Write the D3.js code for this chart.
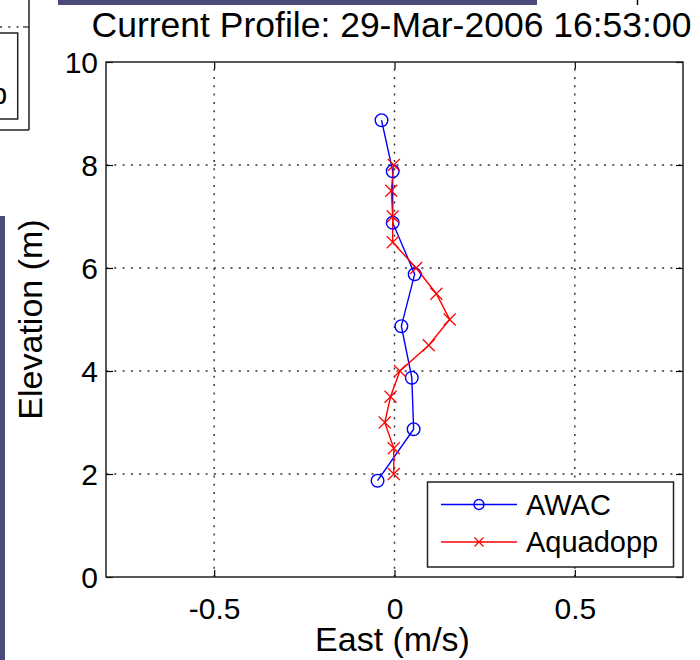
<!DOCTYPE html>
<html>
<head>
<meta charset="utf-8">
<script src="https://cdn.jsdelivr.net/npm/d3@7"></script>
<style>
  html, body { margin: 0; padding: 0; background: #fff; }
  svg { display: block; font-family: "Liberation Sans", Arial, Helvetica, sans-serif; }
</style>
</head>
<body>
<svg id="chart" width="700" height="660"></svg>
<script>
// Current profile: east velocity vs. elevation for two instruments
const titleText = "Current Profile: 29-Mar-2006 16:53:00";
const xLabel = "East (m/s)";
const yLabel = "Elevation (m)";

const xTicks = [-0.5, 0, 0.5];
const xTickLabels = ["-0.5", "0", "0.5"];
const yTicks = [0, 2, 4, 6, 8, 10];
const yTickLabels = ["0", "2", "4", "6", "8", "10"];

// AWAC cells (elevation in m, east velocity in m/s)
const awacElevation = [1.87, 2.87, 3.87, 4.87, 5.88, 6.88, 7.88, 8.87];
const awacEast      = [-0.047, 0.053, 0.048, 0.019, 0.056, -0.005, -0.005, -0.036];

// Aquadopp cells
const aquaElevation = [2.0, 2.5, 3.0, 3.5, 4.0, 4.5, 5.0, 5.5, 6.0, 6.5, 7.0, 7.5, 8.0];
const aquaEast      = [-0.002, -0.002, -0.027, -0.011, 0.015, 0.095, 0.153, 0.116, 0.06, -0.005, -0.005, -0.009, -0.002];

const seriesNames = ["AWAC", "Aquadopp"];

const svg = d3.select("#chart");
const fontTick = 30, fontLabel = 34, fontTitle = 35.5, fontLegend = 29;

const plot = { left: 106, top: 62, right: 683, bottom: 577 };
const x = d3.scaleLinear().domain([-0.8, 0.8]).range([plot.left, plot.right]);
const y = d3.scaleLinear().domain([0, 10]).range([plot.bottom, plot.top]);

// Neighbouring window pieces around the axes
const frame = svg.append("g");
frame.append("rect").attr("x", 58).attr("y", 0).attr("width", 479).attr("height", 5).attr("fill", "#4b4b7a");
frame.append("rect").attr("x", 0).attr("y", 216).attr("width", 5).attr("height", 444).attr("fill", "#4b4b7a");
frame.append("line").attr("x1", 637.5).attr("x2", 637.5).attr("y1", 0).attr("y2", 5).attr("stroke", "#000").attr("stroke-width", 1.5);
frame.append("line").attr("x1", 29).attr("x2", 29).attr("y1", 0).attr("y2", 130).attr("stroke", "#222").attr("stroke-width", 1.5);
frame.append("line").attr("x1", 0).attr("x2", 29).attr("y1", 130).attr("y2", 130).attr("stroke", "#222").attr("stroke-width", 1.5);
frame.append("line").attr("x1", 0).attr("x2", 23).attr("y1", 27).attr("y2", 27)
  .attr("stroke", "#333").attr("stroke-width", 1.5).attr("stroke-dasharray", "2,6.3");
frame.append("line").attr("x1", 23).attr("x2", 29).attr("y1", 27).attr("y2", 27).attr("stroke", "#222").attr("stroke-width", 1.2);
frame.append("polyline").attr("points", "0,33 17.7,33 17.7,119 0,119")
  .attr("fill", "none").attr("stroke", "#222").attr("stroke-width", 1.5);
// tail of a neighbouring legend entry, clipped by the window edge
frame.append("text").attr("x", -9).attr("y", 104).attr("font-size", fontLegend).attr("fill", "#000").text("p");

// Grid (dotted)
const grid = svg.append("g").attr("stroke", "#333").attr("stroke-width", 1.5).attr("stroke-dasharray", "2,6.3");
grid.selectAll("line.gx").data(xTicks).join("line")
  .attr("x1", d => x(d)).attr("x2", d => x(d)).attr("y1", plot.bottom).attr("y2", plot.top);
grid.selectAll("line.gy").data(yTicks.filter(d => d > 0 && d < 10)).join("line")
  .attr("x1", plot.left).attr("x2", plot.right).attr("y1", d => y(d)).attr("y2", d => y(d));

// Axes with inward ticks on all four sides
const tickLen = 7;
const axisStyle = g => {
  g.select(".domain").remove();
  g.selectAll(".tick line").attr("stroke", "#000").attr("stroke-width", 1.2);
};
svg.append("g").attr("transform", `translate(0,${plot.bottom})`)
  .call(d3.axisBottom(x).tickValues(xTicks).tickSize(-tickLen).tickFormat((d, i) => xTickLabels[i]))
  .call(axisStyle)
  .call(g => g.selectAll(".tick text").attr("font-size", fontTick).attr("fill", "#000")
    .attr("font-family", "Liberation Sans, Arial, sans-serif").attr("y", 0).attr("dy", 42));
svg.append("g").attr("transform", `translate(0,${plot.top})`)
  .call(d3.axisTop(x).tickValues(xTicks).tickSize(-tickLen).tickFormat(""))
  .call(axisStyle);
svg.append("g").attr("transform", `translate(${plot.left},0)`)
  .call(d3.axisLeft(y).tickValues(yTicks).tickSize(-tickLen).tickFormat((d, i) => yTickLabels[i]))
  .call(axisStyle)
  .call(g => g.selectAll(".tick text").attr("font-size", fontTick).attr("fill", "#000")
    .attr("font-family", "Liberation Sans, Arial, sans-serif").attr("x", -8).attr("dy", "0.36em"));
svg.append("g").attr("transform", `translate(${plot.right},0)`)
  .call(d3.axisRight(y).tickValues(yTicks).tickSize(-tickLen).tickFormat(""))
  .call(axisStyle);

// Axes box
svg.append("rect").attr("x", plot.left).attr("y", plot.top)
  .attr("width", plot.right - plot.left).attr("height", plot.bottom - plot.top)
  .attr("fill", "none").attr("stroke", "#222").attr("stroke-width", 1.5);

// Series
const awac = awacEast.map((v, i) => ({ e: v, z: awacElevation[i] }));
const aqua = aquaEast.map((v, i) => ({ e: v, z: aquaElevation[i] }));
const line = d3.line().x(d => x(d.e)).y(d => y(d.z));

svg.append("path").datum(awac).attr("d", line)
  .attr("fill", "none").attr("stroke", "#0000ff").attr("stroke-width", 1.4);
svg.append("path").datum(aqua).attr("d", line)
  .attr("fill", "none").attr("stroke", "#ff0000").attr("stroke-width", 1.4);

const circleR = 6.3, crossH = 6;
svg.append("g").selectAll("circle").data(awac).join("circle")
  .attr("cx", d => x(d.e)).attr("cy", d => y(d.z)).attr("r", circleR)
  .attr("fill", "none").attr("stroke", "#0000ff").attr("stroke-width", 1.4);
const crossPath = (cx, cy, h) => `M${cx - h},${cy - h}L${cx + h},${cy + h}M${cx - h},${cy + h}L${cx + h},${cy - h}`;
svg.append("g").selectAll("path").data(aqua).join("path")
  .attr("d", d => crossPath(x(d.e), y(d.z), crossH))
  .attr("fill", "none").attr("stroke", "#ff0000").attr("stroke-width", 1.2);

// Legend
const lg = svg.append("g");
lg.append("rect").attr("x", 427.5).attr("y", 482).attr("width", 246).attr("height", 85)
  .attr("fill", "#fff").attr("stroke", "#222").attr("stroke-width", 1.5);
const rows = [
  { name: seriesNames[0], color: "#0000ff", cy: 504.5, marker: "circle" },
  { name: seriesNames[1], color: "#ff0000", cy: 542, marker: "cross" }
];
rows.forEach(r => {
  lg.append("line").attr("x1", 441).attr("x2", 517).attr("y1", r.cy).attr("y2", r.cy)
    .attr("stroke", r.color).attr("stroke-width", 1.4);
  if (r.marker === "circle") {
    lg.append("circle").attr("cx", 479).attr("cy", r.cy).attr("r", 5)
      .attr("fill", "none").attr("stroke", r.color).attr("stroke-width", 1.4);
  } else {
    lg.append("path").attr("d", crossPath(479, r.cy, 4.5))
      .attr("fill", "none").attr("stroke", r.color).attr("stroke-width", 1.2);
  }
  lg.append("text").attr("x", 526).attr("y", r.cy).attr("dy", "0.36em")
    .attr("font-size", fontLegend).attr("fill", "#000").text(r.name);
});

// Title and axis labels
svg.append("text").attr("x", (plot.left + plot.right) / 2 - 3).attr("y", 37)
  .attr("text-anchor", "middle").attr("font-size", fontTitle).attr("fill", "#000").text(titleText);
svg.append("text").attr("x", (plot.left + plot.right) / 2 - 2).attr("y", 651)
  .attr("text-anchor", "middle").attr("font-size", fontLabel).attr("fill", "#000").text(xLabel);
svg.append("text").attr("transform", `translate(42,${(plot.top + plot.bottom) / 2}) rotate(-90)`)
  .attr("text-anchor", "middle").attr("font-size", fontLabel).attr("fill", "#000").text(yLabel);
</script>
</body>
</html>
